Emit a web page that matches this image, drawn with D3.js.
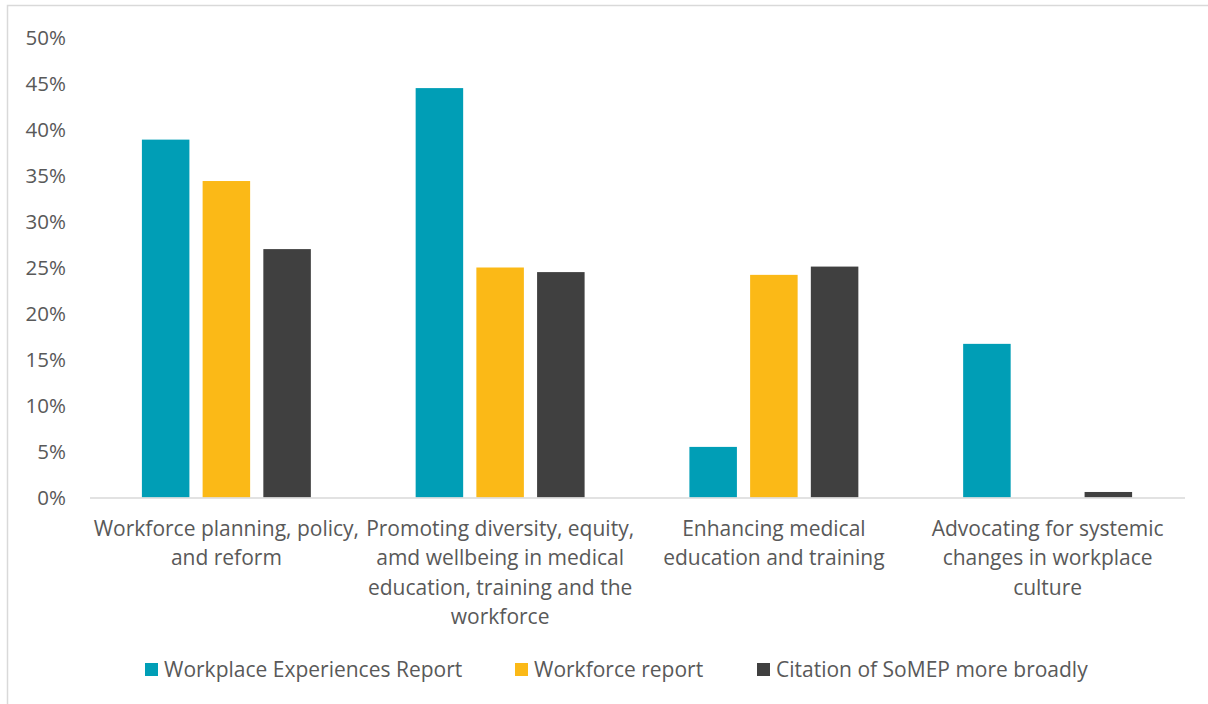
<!DOCTYPE html>
<html>
<head>
<meta charset="utf-8">
<script src="https://cdn.jsdelivr.net/npm/d3@7"></script>
<style>
  html, body { margin: 0; padding: 0; background: #ffffff; }
  svg { display: block; font-family: "Open Sans", "Noto Sans", sans-serif; }
</style>
</head>
<body>
<svg id="chart" width="1208" height="704"></svg>
<script>
// Categories (each wrapped into the lines shown under the axis)
const categories = [
  "Workforce planning, policy, and reform",
  "Promoting diversity, equity, amd wellbeing in medical education, training and the workforce",
  "Enhancing medical education and training",
  "Advocating for systemic changes in workplace culture"
];
const categoryLines = [
  ["Workforce planning, policy,", "and reform"],
  ["Promoting diversity, equity,", "amd wellbeing in medical", "education, training and the", "workforce"],
  ["Enhancing medical", "education and training"],
  ["Advocating for systemic", "changes in workplace", "culture"]
];

// Series names and values (share of mentions, %)
const seriesNames = ["Workplace Experiences Report", "Workforce report", "Citation of SoMEP more broadly"];
const workplaceExperiences = [38.9, 44.5, 5.5, 16.7];
const workforceReport      = [34.4, 25.0, 24.2, 0];
const citationBroadly      = [27.0, 24.5, 25.1, 0.6];
const seriesColors = ["#009EB6", "#FBB917", "#404040"];

// Y-axis ticks
const yTicks = [0, 5, 10, 15, 20, 25, 30, 35, 40, 45, 50];

const seriesValues = [workplaceExperiences, workforceReport, citationBroadly];
const rows = categories.map((c, i) => ({
  category: c,
  values: seriesNames.map((s, j) => ({ series: s, value: seriesValues[j][i], color: seriesColors[j] }))
}));

const svg = d3.select("#chart");
const textColor = "#595959";
const axisColor = "#D9D9D9";

// Outer frame
svg.append("path")
  .attr("d", "M7.5,704 V5.5 H1208")
  .attr("fill", "none")
  .attr("stroke", axisColor)
  .attr("stroke-width", 1.5);

const plot = { left: 89.5, right: 1184.5, top: 37.5, bottom: 497.5 };

const x0 = d3.scaleBand()
  .domain(categories)
  .range([plot.left, plot.right])
  .padding(0);

const x1 = d3.scaleBand()
  .domain(seriesNames)
  .range([0, x0.bandwidth()])
  .paddingInner(0.2175)
  .paddingOuter(0.863);

const y = d3.scaleLinear()
  .domain([0, 50])
  .range([plot.bottom, plot.top]);

// Y-axis labels
const yAxis = d3.axisLeft(y)
  .tickValues(yTicks)
  .tickFormat(d => d + "%")
  .tickSize(0)
  .tickPadding(0);

const gy = svg.append("g")
  .attr("transform", `translate(${66},0)`)
  .call(yAxis);
gy.select(".domain").remove();
gy.selectAll("text")
  .attr("fill", textColor)
  .attr("font-size", 20.5)
  .attr("font-family", "\"Open Sans\", sans-serif");

// Bars
const groups = svg.append("g")
  .selectAll("g")
  .data(rows)
  .join("g")
  .attr("transform", d => `translate(${x0(d.category)},0)`);

groups.selectAll("rect")
  .data(d => d.values.filter(v => v.value > 0))
  .join("rect")
  .attr("x", d => x1(d.series))
  .attr("width", x1.bandwidth())
  .attr("y", d => y(d.value))
  .attr("height", d => y(0) - y(d.value))
  .attr("fill", d => d.color);

// Category axis line
const xAxis = d3.axisBottom(x0).tickSize(0).tickFormat("");
const gx = svg.append("g")
  .attr("transform", `translate(0,${plot.bottom})`)
  .call(xAxis);
gx.select(".domain")
  .attr("stroke", axisColor)
  .attr("stroke-width", 1.5);

// Category labels
const labelG = svg.append("g");
categories.forEach((c, i) => {
  const cx = x0(c) + x0.bandwidth() / 2;
  const t = labelG.append("text")
    .attr("text-anchor", "middle")
    .attr("fill", textColor)
    .attr("font-size", 21);
  categoryLines[i].forEach((line, k) => {
    t.append("tspan")
      .attr("x", cx)
      .attr("y", 535.5 + k * 29.6)
      .text(line);
  });
});

// Legend
const legendItems = [
  { x: 145, textX: 164 },
  { x: 515, textX: 534 },
  { x: 757, textX: 776 }
];
const legend = svg.append("g");
seriesNames.forEach((s, i) => {
  legend.append("rect")
    .attr("x", legendItems[i].x)
    .attr("y", 663)
    .attr("width", 13)
    .attr("height", 13)
    .attr("fill", seriesColors[i]);
  legend.append("text")
    .attr("x", legendItems[i].textX)
    .attr("y", 676.5)
    .attr("fill", textColor)
    .attr("font-size", 21)
    .text(s);
});
</script>
</body>
</html>
